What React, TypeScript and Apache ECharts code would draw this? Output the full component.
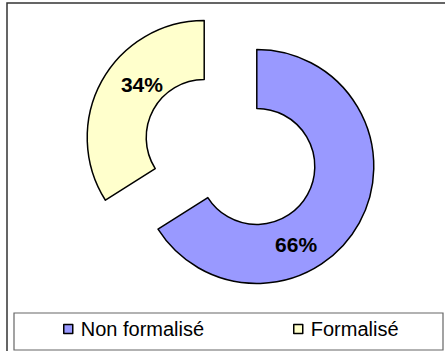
import React, { useEffect, useRef } from "react";
import * as echarts from "echarts";

const categories = ["Non formalisé", "Formalisé"];
const values = [66, 34];
const colors = ["#9999FF", "#FFFFCC"];
// label shift from the ring's mid-radius point, per slice
const labelShift = [
  [-40, 34],
  [17, -9],
];

export default function App() {
  const ref = useRef<HTMLDivElement>(null);

  useEffect(() => {
    document.body.style.margin = "0";
    if (!ref.current) return;
    const chart = echarts.init(ref.current, null, { renderer: "svg" });
    const font = "'Liberation Sans', Arial, sans-serif";

    chart.setOption({
      animation: false,
      backgroundColor: "#ffffff",
      graphic: [
        {
          type: "rect",
          shape: { x: 7, y: 3, width: 445, height: 360 },
          style: { fill: "none", stroke: "#333333", lineWidth: 1.5 },
          silent: true,
        },
        {
          type: "rect",
          shape: { x: 14, y: 313, width: 429, height: 37 },
          style: { fill: "none", stroke: "#666666", lineWidth: 1.2 },
          silent: true,
        },
      ],
      legend: categories.map((name, i) => ({
        data: [name],
        left: i === 0 ? 63 : 293,
        top: 319,
        icon: "rect",
        itemWidth: 9,
        itemHeight: 9,
        itemGap: 0,
        selectedMode: false,
        padding: 0,
        itemStyle: { borderColor: "#000", borderWidth: 1.5 },
        textStyle: { fontFamily: font, fontSize: 20, color: "#000", padding: [0, 0, 0, 3] },
      })),
      series: [
        {
          type: "pie",
          center: [230.5, 152],
          radius: [58, 117],
          startAngle: 90,
          clockwise: true,
          selectedMode: "multiple",
          selectedOffset: 30,
          emphasis: { disabled: true },
          itemStyle: { borderColor: "#000", borderWidth: 1.5 },
          label: {
            show: true,
            position: "inside",
            formatter: "{d}%",
            fontFamily: font,
            fontSize: 21,
            fontWeight: "bold",
            color: "#000",
          },
          labelLine: { show: false },
          labelLayout: (p: any) => ({
            dx: labelShift[p.dataIndex][0],
            dy: labelShift[p.dataIndex][1],
          }),
          data: categories.map((name, i) => ({
            name,
            value: values[i],
            selected: true,
            itemStyle: { color: colors[i] },
            select: { itemStyle: { color: colors[i], borderColor: "#000", borderWidth: 1.5 } },
          })),
        },
      ],
    });

    return () => chart.dispose();
  }, []);

  return <div ref={ref} style={{ width: 445, height: 351 }} />;
}
